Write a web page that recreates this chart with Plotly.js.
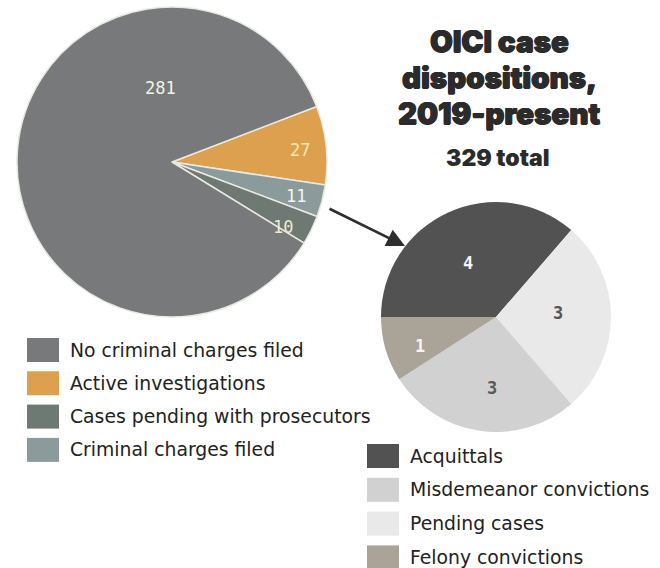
<!DOCTYPE html>
<html>
<head>
<meta charset="utf-8">
<script src="https://cdn.plot.ly/plotly-3.0.1.min.js"></script>
<style>html,body{margin:0;padding:0;background:#fff;}#chart{width:660px;height:568px;}</style>
</head>
<body>
<div id="chart"></div>
<script>
// ---- data ----
const mainLabels = ['Active investigations', 'Criminal charges filed', 'Cases pending with prosecutors', 'No criminal charges filed'];
const mainValues = [27, 11, 10, 281];
const mainColors = ['#dca04f', '#8b9b9b', '#6e7973', '#78797a'];
const mainLegendOrder = ['No criminal charges filed', 'Active investigations', 'Cases pending with prosecutors', 'Criminal charges filed'];

const subLabels = ['Acquittals', 'Pending cases', 'Misdemeanor convictions', 'Felony convictions'];
const subValues = [4, 3, 3, 1];
const subColors = ['#525252', '#e9e9e9', '#d1d1d1', '#aaa398'];
const subLegendOrder = ['Acquittals', 'Misdemeanor convictions', 'Pending cases', 'Felony convictions'];

const titleLines = ['OICI case', 'dispositions,', '2019-present'];
const subtitle = '329 total';

// ---- layout helpers (pixel -> paper) ----
const W = 660, H = 568;
const px = x => x / W;
const py = y => 1 - y / H;

// label positions (pixels) and styles for slice value labels
const mainLabelPos = [[300, 150], [296, 196], [283, 227], [160, 88]];
const mainLabelColor = ['#f6e7b2', '#f4f4ee', '#ecebd0', '#f2f2ea'];
const subLabelPos = [[468, 263], [558, 313], [492, 388], [420, 346]];
const subLabelColor = ['#f4f4f4', '#555555', '#5a5a5a', '#f4f4f4'];

const traces = [
  {
    type: 'pie', labels: mainLabels, values: mainValues, sort: false,
    direction: 'clockwise', rotation: 69,
    marker: {colors: mainColors, line: {color: '#e9e9e2', width: 1.5}},
    textinfo: 'none', hoverinfo: 'label+value', showlegend: false,
    domain: {x: [px(17), px(327)], y: [py(317), py(7)]}
  },
  {
    type: 'pie', labels: subLabels, values: subValues, sort: false,
    direction: 'clockwise', rotation: 270,
    marker: {colors: subColors, line: {color: '#cfcfcf', width: 0}},
    textinfo: 'none', hoverinfo: 'label+value', showlegend: false,
    domain: {x: [px(381), px(611)], y: [py(432), py(202)]}
  }
];

const annotations = [];
const shapes = [];

// slice value labels
mainValues.forEach((v, i) => annotations.push({
  xref: 'paper', yref: 'paper', x: px(mainLabelPos[i][0]), y: py(mainLabelPos[i][1]),
  text: String(v), showarrow: false, xanchor: 'center', yanchor: 'middle',
  font: {family: 'DejaVu Sans Mono', size: 17, color: mainLabelColor[i]}
}));
subValues.forEach((v, i) => annotations.push({
  xref: 'paper', yref: 'paper', x: px(subLabelPos[i][0]), y: py(subLabelPos[i][1]),
  text: '<b>' + v + '</b>', showarrow: false, xanchor: 'center', yanchor: 'middle',
  font: {family: 'DejaVu Sans Mono', size: 17, color: subLabelColor[i]}
}));

// title
const titleY = [39, 75, 111];
const heavy = '0.6px 0 0 #2b2b2b, -0.6px 0 0 #2b2b2b, 0 0.5px 0 #2b2b2b';
titleLines.forEach((t, i) => annotations.push({
  xref: 'paper', yref: 'paper', x: px(499), y: py(titleY[i] + 2),
  text: t, showarrow: false, xanchor: 'center', yanchor: 'middle',
  font: {family: 'Inter, Roboto, sans-serif', size: 29.5, weight: 900, color: '#2b2b2b', shadow: heavy}
}));
annotations.push({
  xref: 'paper', yref: 'paper', x: px(498), y: py(158),
  text: subtitle, showarrow: false, xanchor: 'center', yanchor: 'middle',
  font: {family: 'Inter, Roboto, sans-serif', size: 23, weight: 900, color: '#2b2b2b'}
});

// arrow
annotations.push({
  xref: 'paper', yref: 'paper', x: px(405), y: py(246), ax: -77, ay: -38,
  showarrow: true, arrowhead: 2, arrowsize: 1.4, arrowwidth: 2.6, arrowcolor: '#2e2e2e',
  text: '', standoff: 0
});

// manual legends
function addLegend(order, labels, colors, x0, y0, dy, sw, sh, tx) {
  order.forEach((lab, i) => {
    const c = colors[labels.indexOf(lab)];
    const yc = y0 + i * dy;
    shapes.push({
      type: 'rect', xref: 'paper', yref: 'paper',
      x0: px(x0), x1: px(x0 + sw), y0: py(yc + sh / 2), y1: py(yc - sh / 2),
      fillcolor: c, line: {width: 0}
    });
    annotations.push({
      xref: 'paper', yref: 'paper', x: px(tx), y: py(yc), text: lab,
      showarrow: false, xanchor: 'left', yanchor: 'middle',
      font: {family: 'DejaVu Sans, sans-serif', size: 18.8, color: '#222222'}
    });
  });
}
addLegend(mainLegendOrder, mainLabels, mainColors, 27, 350, 33.3, 32, 24, 68);
addLegend(subLegendOrder, subLabels, subColors, 367, 456, 33.8, 32, 24, 408);

const layout = {
  width: W, height: H,
  margin: {l: 0, r: 0, t: 0, b: 0},
  paper_bgcolor: '#ffffff', plot_bgcolor: '#ffffff',
  showlegend: false,
  annotations: annotations, shapes: shapes
};

Plotly.newPlot('chart', traces, layout, {displayModeBar: false, staticPlot: true});
</script>
</body>
</html>
